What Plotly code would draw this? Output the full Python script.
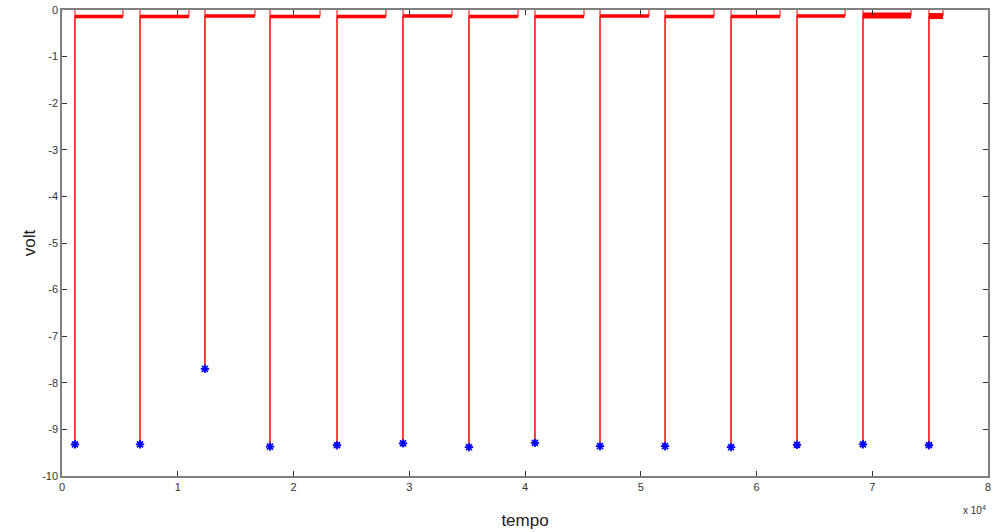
import plotly.graph_objects as go

# spike times (samples), spike minima (volt), end of each baseline segment (samples)
spike_t = [1120, 6740, 12350, 17970, 23760, 29460, 35160, 40860, 46480, 52100, 57800, 63500, 69200, 74900]
spike_min = [-9.32, -9.32, -7.70, -9.37, -9.34, -9.30, -9.38, -9.29, -9.36, -9.36, -9.38, -9.33, -9.32, -9.34]
seg_end = [5270, 10970, 16670, 22290, 27990, 33690, 39400, 45100, 50710, 56330, 62030, 67650, 73350, 76110]
base_level = [-0.14, -0.14, -0.13, -0.14, -0.14, -0.13, -0.14, -0.14, -0.13, -0.14, -0.14, -0.13, -0.12, -0.13]
x_ticks = [0, 10000, 20000, 30000, 40000, 50000, 60000, 70000, 80000]
x_tick_text = ["0", "1", "2", "3", "4", "5", "6", "7", "8"]
y_ticks = [0, -1, -2, -3, -4, -5, -6, -7, -8, -9, -10]
y_tick_text = ["0", "-1", "-2", "-3", "-4", "-5", "-6", "-7", "-8", "-9", "-10"]

RED = "#ff0000"
BLUE = "#0000ff"
FONT = "Arial, Liberation Sans, sans-serif"

# signal path (thin): drop from 0 to the spike minimum, back to baseline, up to 0 at segment end
px, py = [], []
for t, m, e, b in zip(spike_t, spike_min, seg_end, base_level):
    px += [t, t, t, e, e, None]
    py += [0, m, b, b, 0, None]

# noisy baseline bands (thicker)
bx, by = [], []
for t, e, b in zip(spike_t, seg_end, base_level):
    bx += [t, e, None]
    by += [b, b, None]

fig = go.Figure()
fig.add_trace(go.Scatter(x=px, y=py, mode="lines", line=dict(color=RED, width=1), hoverinfo="skip"))
fig.add_trace(go.Scatter(x=bx, y=by, mode="lines", line=dict(color=RED, width=3.5), hoverinfo="skip"))
fig.add_trace(go.Scatter(x=bx[-6:], y=by[-6:], mode="lines", line=dict(color=RED, width=6), hoverinfo="skip"))
fig.add_trace(go.Scatter(
    x=spike_t, y=spike_min, mode="markers",
    marker=dict(symbol="asterisk-open", size=7, color=BLUE, line=dict(color=BLUE, width=1.8)),
))

axis_common = dict(
    showgrid=False, zeroline=False, showline=True, linecolor="#7f7f7f", linewidth=1.5,
    mirror="ticks", ticks="inside", ticklen=5, tickcolor="#333333", tickwidth=1,
    tickfont=dict(family=FONT, size=11, color="#333333"), automargin=False,
)

fig.update_layout(
    width=996, height=532,
    margin=dict(l=62, r=8, t=10, b=56),
    paper_bgcolor="white", plot_bgcolor="white",
    showlegend=False,
    xaxis=dict(range=[0, 80000], tickvals=x_ticks, ticktext=x_tick_text,
               title=dict(text="tempo", font=dict(family=FONT, size=17, color="#222222"), standoff=22),
               **axis_common),
    yaxis=dict(range=[-10, 0], tickvals=y_ticks, ticktext=y_tick_text,
               title=dict(text="volt", font=dict(family=FONT, size=17, color="#222222"), standoff=2),
               **axis_common),
    annotations=[dict(
        text="x 10<sup>4</sup>", xref="paper", yref="paper", x=1.0, y=-0.055,
        xanchor="right", yanchor="top", showarrow=False,
        font=dict(family=FONT, size=10, color="#333333"),
    )],
)

fig.write_html("out.html")
